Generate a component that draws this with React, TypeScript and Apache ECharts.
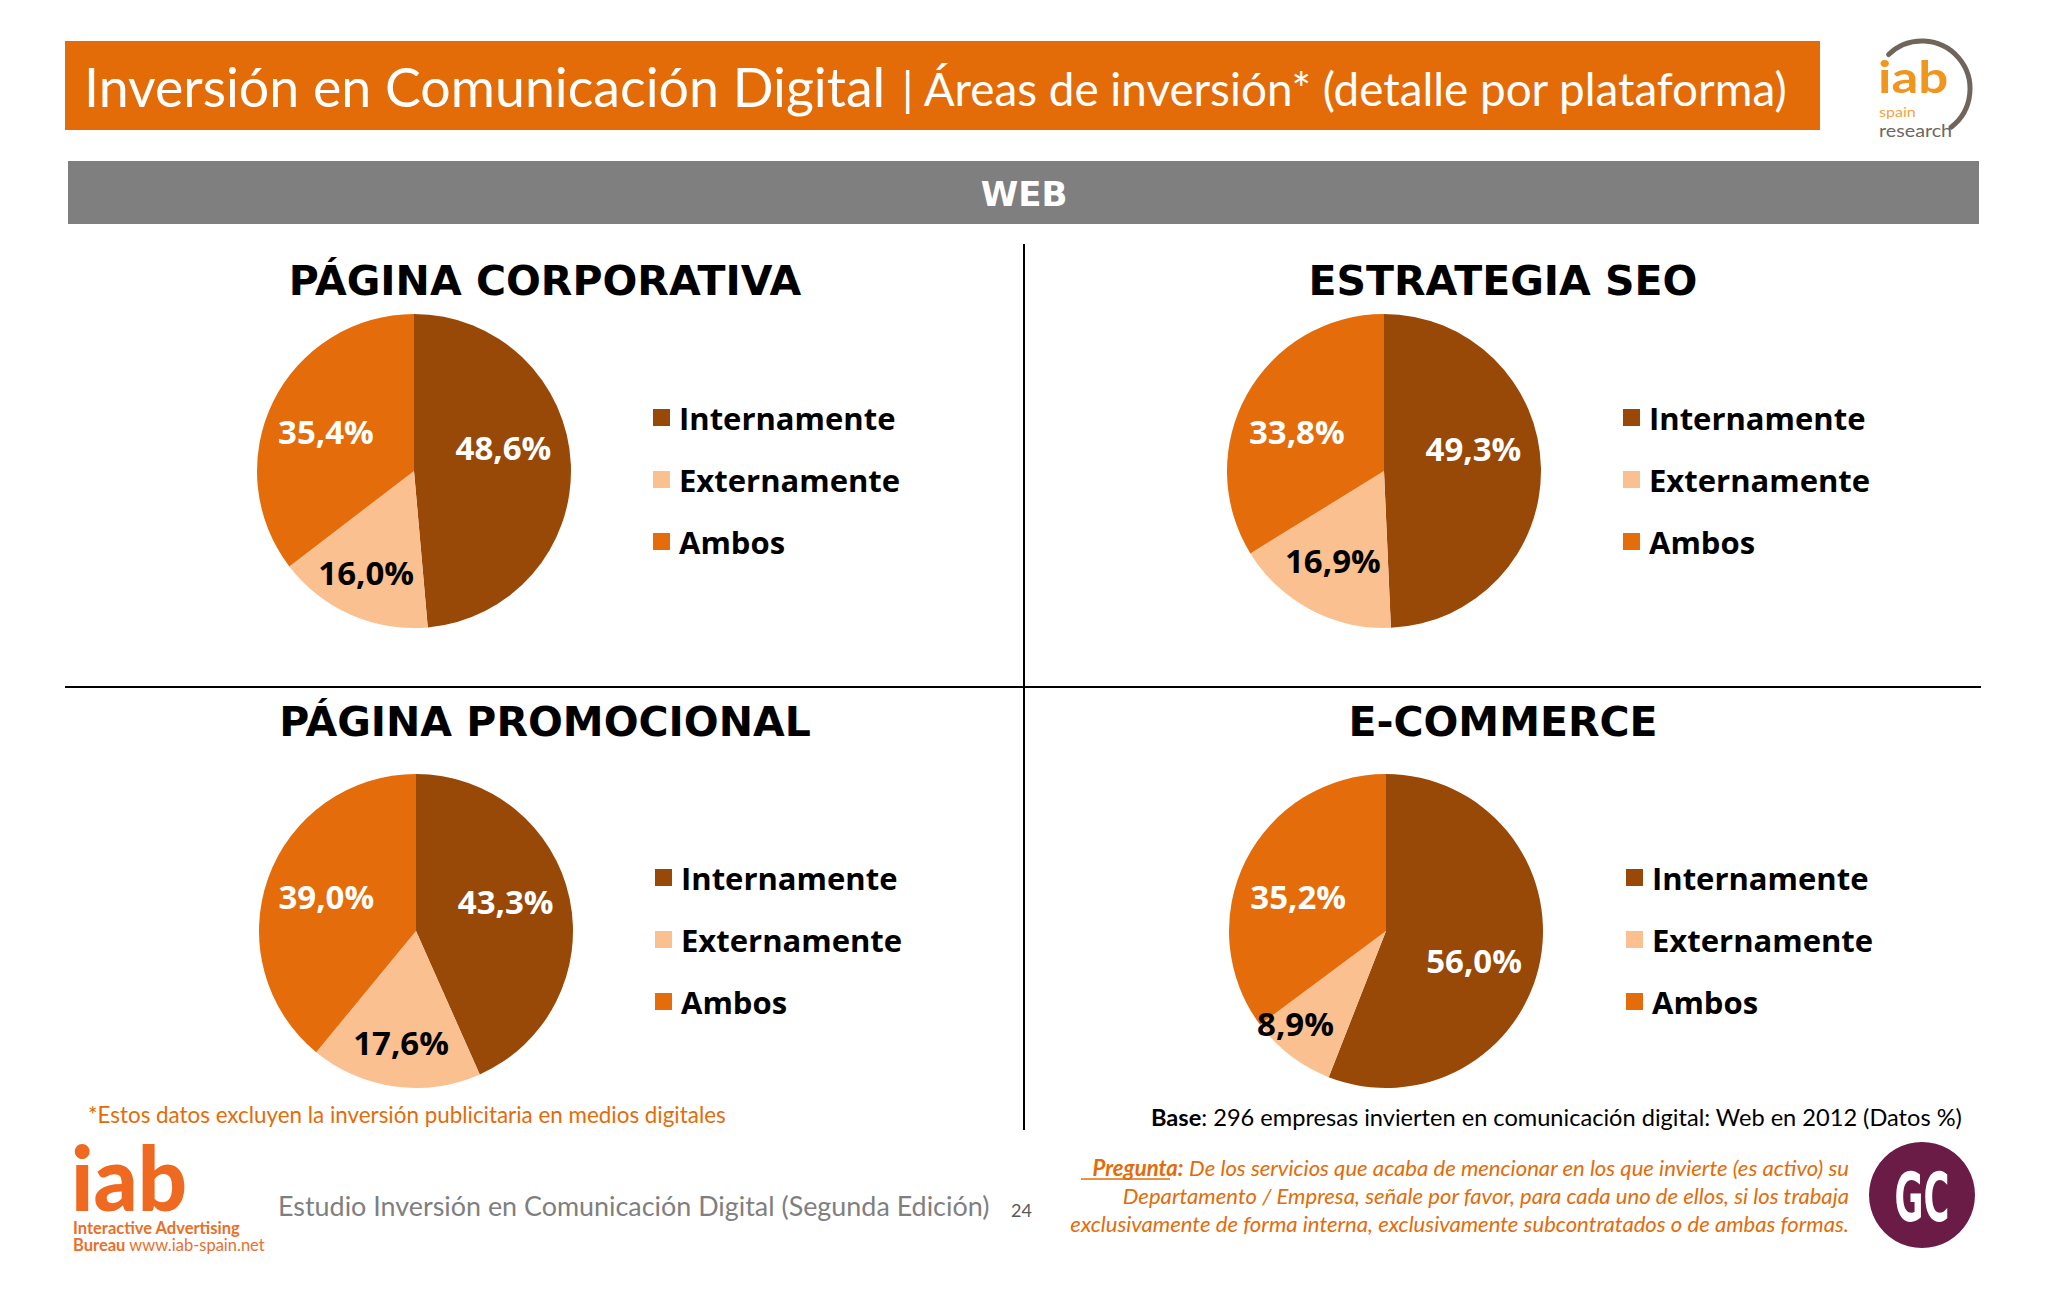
import React, { useEffect, useRef } from 'react';
import * as echarts from 'echarts';

// ---- data ----
const categories = ['Internamente', 'Externamente', 'Ambos'];
const chartTitles = ['PÁGINA CORPORATIVA', 'ESTRATEGIA SEO', 'PÁGINA PROMOCIONAL', 'E-COMMERCE'];
const corporativa = [48.6, 16.0, 35.4];
const seo = [49.3, 16.9, 33.8];
const promocional = [43.3, 17.6, 39.0];
const ecommerce = [56.0, 8.9, 35.2];
const seriesValues = [corporativa, seo, promocional, ecommerce];

const mainTitle = 'Inversión en Comunicación Digital';
const subTitle = '| Áreas de inversión* (detalle por plataforma)';
const sectionLabel = 'WEB';
const footnote = '*Estos datos excluyen la inversión publicitaria en medios digitales';
const baseText = ': 296 empresas invierten en comunicación digital: Web en 2012 (Datos %)';
const preguntaLines = [
  'De los servicios que acaba de mencionar en los que invierte (es activo) su',
  'Departamento / Empresa, señale por favor, para cada uno de ellos, si los trabaja',
  'exclusivamente de forma interna, exclusivamente subcontratados o de ambas formas.',
];
const studyText = 'Estudio Inversión en Comunicación Digital (Segunda Edición)';
const pageNumber = '24';

// ---- styles / layout ----
const colors = ['#984807', '#FAC090', '#E46C0A'];
const labelColors = ['#FFFFFF', '#000000', '#FFFFFF'];
const ORANGE = '#E36C0A';

const panels = [
  { cx: 414, cy: 471, titleX: 545, titleY: 281, legendX: 653, legendY: 402, offsets: [[8, -20], [-15, 27], [-15, -3]] },
  { cx: 1384, cy: 471, titleX: 1503, titleY: 281, legendX: 1623, legendY: 402, offsets: [[8, -21], [-13, 17], [-16, 0]] },
  { cx: 416, cy: 931, titleX: 545, titleY: 722, legendX: 655, legendY: 862, offsets: [[10, -13], [-4, 31], [-13, -7]] },
  { cx: 1386, cy: 931, titleX: 1503, titleY: 722, legendX: 1626, legendY: 862, offsets: [[8, 14], [-41, 28], [-15, 2]] },
];

const fmt = (v: number) => v.toFixed(1).replace('.', ',') + '%';

function txt(x: number, y: number, text: string, o: any = {}, extra: any = {}) {
  const align = o.align || 'left';
  const va = o.verticalAlign || 'middle';
  return {
    type: 'text',
    x,
    y,
    silent: true,
    ...extra,
    style: {
      text,
      x: 0,
      y: 0,
      fill: o.fill || '#000',
      fontSize: o.fontSize || 20,
      fontFamily: o.fontFamily || 'Lato',
      fontWeight: o.fontWeight || 'normal',
      fontStyle: o.fontStyle || 'normal',
      lineHeight: o.lineHeight,
      align,
      verticalAlign: va,
      textAlign: align,
      textVerticalAlign: va,
      rich: o.rich,
    },
  };
}

export default function App() {
  const ref = useRef<HTMLDivElement>(null);

  useEffect(() => {
    document.body.style.margin = '0';
    document.body.style.background = '#ffffff';
    if (!ref.current) return;
    const chart = echarts.init(ref.current, undefined, { renderer: 'svg' });

    const PQ = 22.1;
    const graphics: any[] = [
      // title bar
      { type: 'rect', silent: true, shape: { x: 65, y: 41, width: 1755, height: 89 }, style: { fill: '#E36C09' } },
      txt(84, 86, mainTitle, { fill: '#fff', fontSize: 53.7 }),
      txt(902, 88, subTitle, { fill: '#fff', fontSize: 45.8 }),
      // top-right logo
      { type: 'arc', silent: true, shape: { cx: 1922, cy: 89, r: 48, startAngle: -2.34, endAngle: 0.92, clockwise: true }, style: { stroke: '#6F655C', lineWidth: 5, fill: 'none', lineCap: 'round' } },
      txt(1878, 76, 'iab', { fill: '#F0961E', fontSize: 44, fontWeight: 'bold' }, { scaleX: 1.2 }),
      txt(1879, 111.5, 'spain', { fill: '#F2A444', fontSize: 14 }, { scaleX: 1.15 }),
      txt(1879, 131, 'research', { fill: '#6D6760', fontSize: 17 }, { scaleX: 1.16 }),
      // WEB bar
      { type: 'rect', silent: true, shape: { x: 68, y: 161, width: 1911, height: 63 }, style: { fill: '#7F7F7F' } },
      txt(1024, 194, sectionLabel, { fill: '#fff', fontSize: 34, fontFamily: 'DejaVu Sans', fontWeight: 'bold', align: 'center' }),
      // dividers
      { type: 'line', silent: true, shape: { x1: 1024, y1: 244, x2: 1024, y2: 1130 }, style: { stroke: '#000', lineWidth: 2 } },
      { type: 'line', silent: true, shape: { x1: 65, y1: 687, x2: 1981, y2: 687 }, style: { stroke: '#000', lineWidth: 2 } },
      // quadrant titles
      ...panels.map((p, i) =>
        txt(p.titleX, p.titleY, chartTitles[i], { fontSize: 41, fontFamily: 'DejaVu Sans', fontWeight: 'bold', align: 'center' })
      ),
      // footnotes
      txt(88, 1114, footnote, { fill: ORANGE, fontSize: 22.4 }),
      txt(1151, 1117, '{b|Base}' + baseText, {
        fill: '#000',
        fontSize: 23.6,
        rich: { b: { fontFamily: 'Lato', fontWeight: 'bold', fontSize: 23.6, fill: '#000', color: '#000' } },
      }),
      txt(1849, 1167, '{p|Pregunta:} ' + preguntaLines[0], {
        fill: ORANGE,
        fontSize: PQ,
        fontStyle: 'italic',
        align: 'right',
        lineHeight: 26,
        rich: { p: { fontFamily: 'Lato', fontWeight: 'bold', fontStyle: 'italic', fontSize: PQ, fill: ORANGE, color: ORANGE, lineHeight: 26 } },
      }),
      txt(1849, 1195, preguntaLines[1], { fill: ORANGE, fontSize: PQ, fontStyle: 'italic', align: 'right', lineHeight: 26 }),
      txt(1849, 1223, preguntaLines[2], { fill: ORANGE, fontSize: PQ, fontStyle: 'italic', align: 'right', lineHeight: 26 }),
      { type: 'line', silent: true, shape: { x1: 1081, y1: 1179, x2: 1170, y2: 1179 }, style: { stroke: ORANGE, lineWidth: 1.5 } },
      // GC badge
      { type: 'circle', silent: true, shape: { cx: 1922, cy: 1195, r: 53 }, style: { fill: '#6A1B46' } },
      txt(1922, 1198, 'GC', { fill: '#fff', fontSize: 68, fontFamily: 'DejaVu Sans', fontWeight: 'bold', align: 'center' }, { scaleX: 0.52 }),
      // bottom-left logo
      txt(71, 1176, 'iab', { fill: '#EF6A20', fontSize: 90, fontWeight: 900, lineHeight: 70 }, { scaleX: 0.96 }),
      txt(73, 1228, 'Interactive Advertising', { fill: '#E8702A', fontSize: 16.5, fontWeight: 'bold', lineHeight: 16 }),
      txt(73, 1245, '{b|Bureau} www.iab-spain.net', {
        fill: '#E8702A',
        fontSize: 16.5,
        lineHeight: 16,
        rich: { b: { fontFamily: 'Lato', fontWeight: 'bold', fontSize: 16.5, fill: '#E8702A', color: '#E8702A', lineHeight: 16 } },
      }),
      txt(278, 1205, studyText, { fill: '#7F7F7F', fontSize: 26.9 }),
      txt(1011, 1210, pageNumber, { fill: '#595959', fontSize: 18 }),
    ];

    chart.setOption({
      animation: false,
      backgroundColor: '#ffffff',
      graphic: { elements: graphics },
      legend: panels.map((p) => ({
        data: categories,
        orient: 'vertical',
        left: p.legendX,
        top: p.legendY,
        padding: 0,
        itemWidth: 17,
        itemHeight: 17,
        itemGap: 31,
        icon: 'rect',
        selectedMode: false,
        textStyle: {
          fontFamily: 'Open Sans',
          fontWeight: 'bold',
          fontSize: 31,
          lineHeight: 30,
          color: '#000',
          padding: [0, 0, 0, 4],
        },
      })),
      series: panels.map((p, i) => ({
        type: 'pie',
        center: [p.cx, p.cy],
        radius: 157,
        startAngle: 90,
        clockwise: true,
        avoidLabelOverlap: false,
        emphasis: { disabled: true },
        label: {
          show: true,
          position: 'inside',
          formatter: (prm: any) => fmt(prm.value),
          fontFamily: 'Open Sans',
          fontWeight: 'bold',
          fontSize: 33,
          textBorderWidth: 0,
        },
        labelLine: { show: false },
        labelLayout: (prm: any) => ({ dx: p.offsets[prm.dataIndex][0], dy: p.offsets[prm.dataIndex][1] }),
        data: categories.map((name, j) => ({
          name,
          value: seriesValues[i][j],
          itemStyle: { color: colors[j] },
          label: { color: labelColors[j] },
        })),
      })),
    });

    return () => chart.dispose();
  }, []);

  return <div ref={ref} style={{ width: 2048, height: 1297 }} />;
}
